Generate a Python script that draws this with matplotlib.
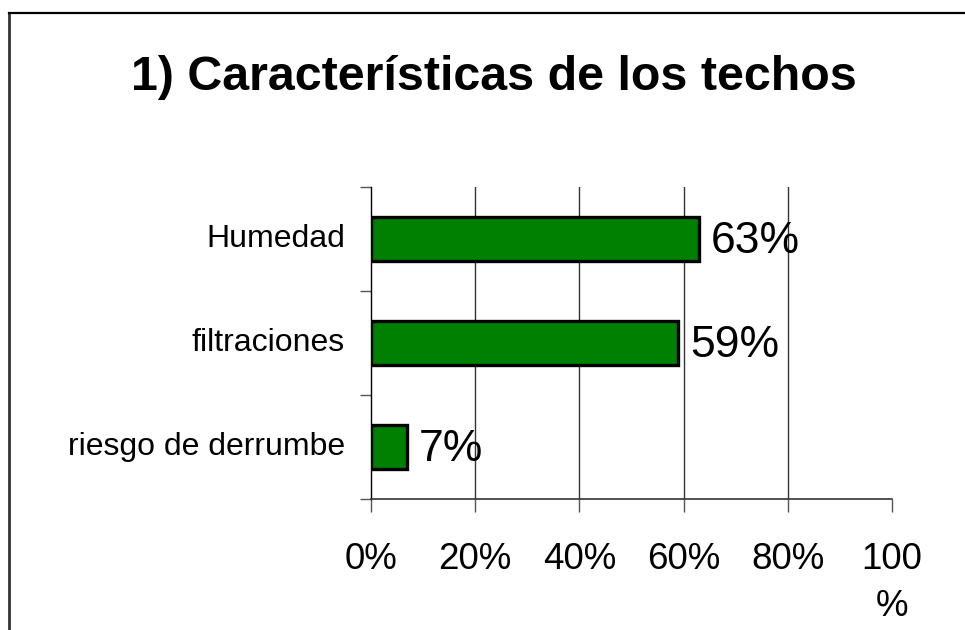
import matplotlib
matplotlib.use("Agg")
import matplotlib.pyplot as plt
from matplotlib.lines import Line2D

plt.rcParams['font.family'] = ['Liberation Sans', 'DejaVu Sans']

title = "1) Características de los techos"
categories = ["riesgo de derrumbe", "filtraciones", "Humedad"]
values = [7, 59, 63]
value_labels = ["7%", "59%", "63%"]
x_ticks = [0, 20, 40, 60, 80, 100]
x_tick_labels = ["0%", "20%", "40%", "60%", "80%", "100\n%"]

W, H = 965, 630
fig = plt.figure(figsize=(W / 100, H / 100), dpi=100)
ax = fig.add_axes([371 / W, (H - 499) / H, (892 - 371) / W, (499 - 187) / H])

ypos = list(range(len(categories)))
ax.barh(ypos, values, height=0.42, color="#008000", edgecolor="black", linewidth=2.4, zorder=3)

ax.set_xlim(0, 100)
ax.set_ylim(-0.5, len(categories) - 0.5)

# gridlines
for t in x_ticks[1:-1]:
    ax.axvline(t, color="#333333", linewidth=1.0, zorder=1)

ax.set_xticks(x_ticks)
ax.set_xticklabels(x_tick_labels, fontsize=26.5, linespacing=1.45, va="top")
ax.tick_params(axis="x", length=9, width=1.0, color="#555555", pad=22)

ax.set_yticks([y - 0.5 for y in ypos] + [len(categories) - 0.5])
ax.set_yticklabels([])
ax.tick_params(axis="y", length=8, width=1.0, color="#555555")
for y, c in zip(ypos, categories):
    ax.text(-5.0, y, c, ha="right", va="center", fontsize=23, transform=ax.transData, clip_on=False)

for y, v, lab in zip(ypos, values, value_labels):
    ax.text(v + 2.2, y - 0.02, lab, ha="left", va="center", fontsize=32, zorder=4)

for s in ["top", "right"]:
    ax.spines[s].set_visible(False)
ax.spines["left"].set_color("black")
ax.spines["left"].set_linewidth(1.0)
ax.spines["bottom"].set_color("#333333")
ax.spines["bottom"].set_linewidth(1.2)

fig.text(494 / W, 1 - 78 / H, title, ha="center", va="center", fontsize=34.8, fontweight="bold")

# frame border (left and top)
fig.add_artist(Line2D([8.5 / W, 8.5 / W], [0, 1 - 13 / H], color="#333333", linewidth=2.0, transform=fig.transFigure))
fig.add_artist(Line2D([8.5 / W, 1], [1 - 13 / H, 1 - 13 / H], color="black", linewidth=1.6, transform=fig.transFigure))

fig.savefig("out.png", dpi=100, facecolor="white")
